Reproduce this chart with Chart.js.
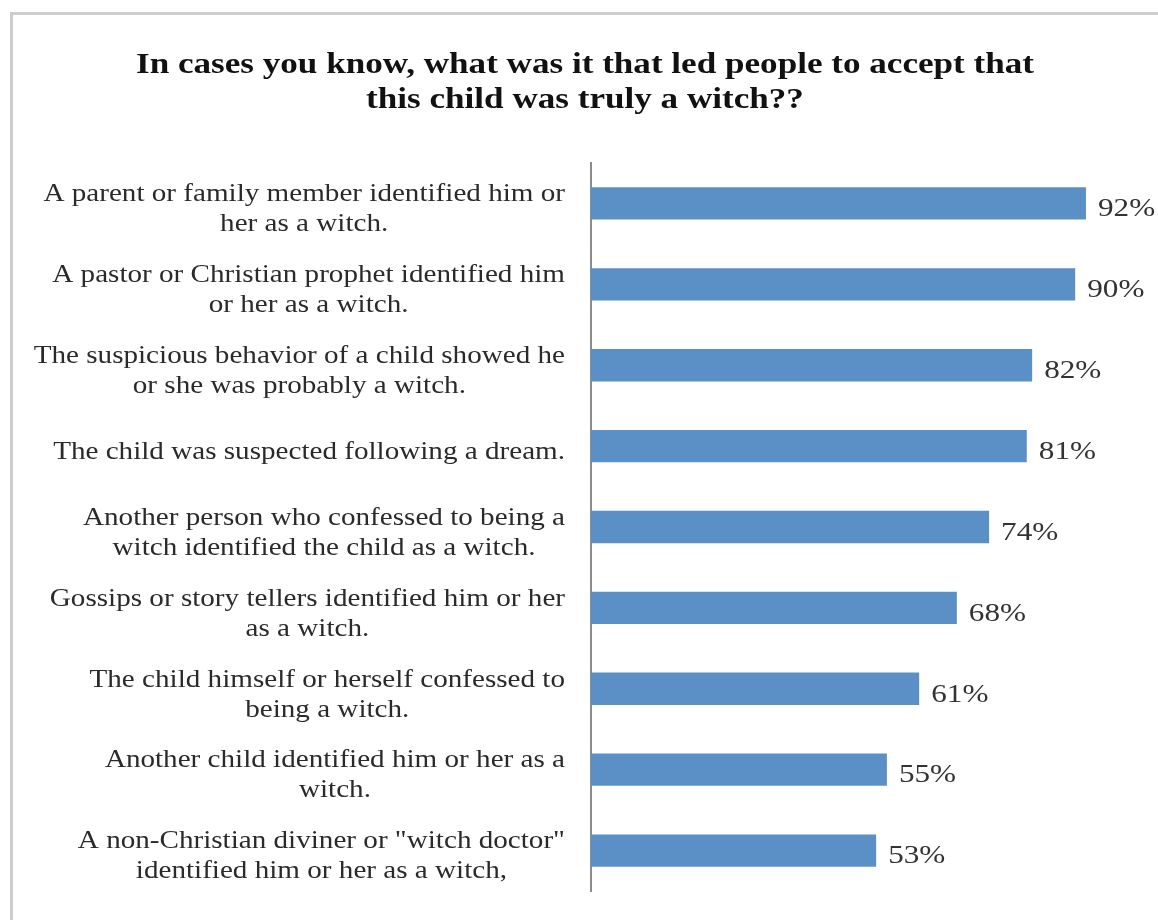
<!DOCTYPE html>
<html>
<head>
<meta charset="utf-8">
<script src="https://cdn.jsdelivr.net/npm/chart.js@4/dist/chart.umd.min.js"></script>
<style>
  html, body { margin: 0; padding: 0; background: #fff; }
  #frame {
    position: absolute; left: 10px; top: 12px; width: 1200px; height: 960px;
    border-left: 3px solid #cdcdcd; border-top: 3px solid #cdcdcd;
  }
  #wrap { position: absolute; left: 0; top: 0; width: 1158px; height: 920px; }
</style>
</head>
<body>
<div id="frame"></div>
<div id="wrap"><canvas id="chart"></canvas></div>
<script>
// ---- data ----
const titleLines = [
    "In cases you know, what was it that led people to accept that",
    "this child was truly a witch??"
];
const categories = [
    ["A parent or family member identified him or", "her as a witch."],
    ["A pastor or Christian prophet identified him", "or her as a witch."],
    ["The suspicious behavior of a child showed he", "or she was probably a witch."],
    ["The child was suspected following a dream."],
    ["Another person who confessed to being a", "witch identified the child as a witch."],
    ["Gossips or story tellers identified him or her", "as a witch."],
    ["The child himself or herself confessed to", "being a witch."],
    ["Another child identified him or her as a", "witch."],
    ["A non-Christian diviner or \"witch doctor\"", "identified him or her as a witch,"]
];
const values = [92, 90, 82, 81, 74, 68, 61, 55, 53];

const serif = "'Liberation Serif', 'Times New Roman', serif";

// texte légèrement étiré horizontalement (l'image d'origine est élargie)
function stretchedText(ctx, text, x, y, sx) {
    ctx.save();
    ctx.translate(x, y);
    ctx.scale(sx, 1);
    ctx.fillText(text, 0, 0);
    ctx.restore();
}

// titre dessiné à la main
const titleDraw = {
    id: "titleDraw",
    afterDraw(chart) {
        const ctx = chart.ctx;
        ctx.save();
        ctx.font = "bold 30px " + serif;
        ctx.fillStyle = "#111";
        ctx.textAlign = "center";
        ctx.textBaseline = "alphabetic";
        titleLines.forEach((l, k) => stretchedText(ctx, l, 585, 73 + k * 35, 1.17));
        ctx.restore();
    }
};

// étiquettes de catégories : bloc aligné à droite, lignes centrées entre elles
const categoryLabels = {
    id: "categoryLabels",
    afterDraw(chart) {
        const ctx = chart.ctx;
        const yScale = chart.scales.y;
        const rightEdge = chart.chartArea.left - 26;
        const lineH = 30;
        const sx = 1.12;
        ctx.save();
        ctx.font = "26px " + serif;
        ctx.fillStyle = "#2a2a2a";
        ctx.textAlign = "center";
        ctx.textBaseline = "middle";
        categories.forEach((lines, i) => {
            const y = yScale.getPixelForTick(i) + 6;
            const w = Math.max(...lines.map(l => ctx.measureText(l).width)) * sx;
            const cx = rightEdge - w / 2;
            const top = y - (lines.length - 1) * lineH / 2;
            lines.forEach((l, k) => stretchedText(ctx, l, cx, top + k * lineH, sx));
        });
        ctx.restore();
    }
};

// valeurs au bout des barres
const valueLabels = {
    id: "valueLabels",
    afterDatasetsDraw(chart) {
        const ctx = chart.ctx;
        const meta = chart.getDatasetMeta(0);
        ctx.save();
        ctx.font = "26px " + serif;
        ctx.fillStyle = "#333";
        ctx.textAlign = "left";
        ctx.textBaseline = "middle";
        meta.data.forEach((bar, i) => {
            stretchedText(ctx, values[i] + "%", bar.x + 12, bar.y + 6, 1.2);
        });
        ctx.restore();
    }
};

new Chart(document.getElementById("chart"), {
    type: "bar",
    data: {
        labels: categories.map(c => c.join(" ")),
        datasets: [{
            data: values,
            backgroundColor: "#5b90c6",
            borderWidth: 0,
            barPercentage: 0.8,
            categoryPercentage: 0.5
        }]
    },
    options: {
        indexAxis: "y",
        responsive: true,
        maintainAspectRatio: false,
        animation: false,
        layout: { padding: { left: 41, right: 29, top: 163, bottom: 29 } },
        plugins: {
            legend: { display: false },
            tooltip: { enabled: false },
            title: { display: false }
        },
        scales: {
            x: { display: false, min: 0, max: 100 },
            y: {
                grid: { display: false },
                border: { display: true, color: "#8c8c8c", width: 2 },
                ticks: { display: false },
                afterFit(scale) { scale.width = 550; }
            }
        }
    },
    plugins: [titleDraw, categoryLabels, valueLabels]
});
</script>
</body>
</html>
